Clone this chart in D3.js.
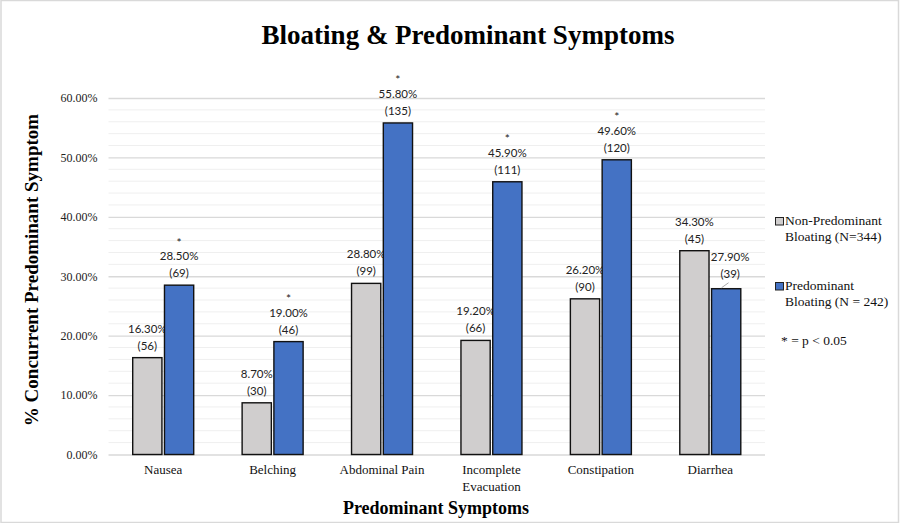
<!DOCTYPE html>
<html>
<head>
<meta charset="utf-8">
<script src="https://cdn.jsdelivr.net/npm/d3@7"></script>
<style>
  body { margin: 0; background: #fff; }
  svg { display: block; }
</style>
</head>
<body>
<div id="chart"></div>
<script>
// dados do grafico
let categories = ['Nausea', 'Belching', 'Abdominal Pain', 'Incomplete Evacuation', 'Constipation', 'Diarrhea'];
let nonPredominant = [16.3, 8.7, 28.8, 19.2, 26.2, 34.3];
let nonPredominantN = [56, 30, 99, 66, 90, 45];
let predominant = [28.5, 19.0, 55.8, 45.9, 49.6, 27.9];
let predominantN = [69, 46, 135, 111, 120, 39];
let significant = [true, true, true, true, true, false];
let seriesNames = ['Non-Predominant Bloating (N=344)', 'Predominant Bloating (N = 242)'];
let yTicks = [0, 10, 20, 30, 40, 50, 60];

let width = 900;
let height = 523;
let colors = ['#d0cece', '#4472c4'];
let serif = '"Liberation Serif", "Times New Roman", serif';
let labelFont = 'Lato, "Open Sans", sans-serif';

let svg = d3.select('#chart').append('svg').attr('width', width).attr('height', height);

// moldura
svg.append('rect').attr('x', 1).attr('y', 0.5).attr('width', width - 2.5).attr('height', height - 1)
   .attr('fill', '#fff').attr('stroke', '#d9d9d9').attr('stroke-width', 1.5);

let plotLeft = 108.5, plotRight = 765, plotTop = 98, plotBottom = 454.5;

let x = d3.scaleBand().domain(categories).range([plotLeft, plotRight]);
let xs = d3.scaleBand().domain([0, 1]).range([0, 61]).paddingInner(0.08);
let y = d3.scaleLinear().domain([0, 60]).range([plotBottom, plotTop]);

// grades menores
svg.append('g').selectAll('line.minor')
   .data(d3.range(0, 61, 2).filter(function (d) { return d % 10 != 0; }))
   .enter().append('line')
     .attr('class', 'minor')
     .attr('x1', plotLeft).attr('x2', plotRight)
     .attr('y1', function (d) { return y(d); }).attr('y2', function (d) { return y(d); })
     .attr('stroke', '#efefef').attr('stroke-width', 1);

// eixo y com grades maiores
let yAxis = d3.axisLeft(y).tickValues(yTicks).tickSize(-(plotRight - plotLeft)).tickPadding(11)
              .tickFormat(function (d) { return d.toFixed(2) + '%'; });
let gy = svg.append('g').attr('transform', 'translate(' + plotLeft + ',0)').call(yAxis);
gy.select('.domain').remove();
gy.selectAll('.tick line').attr('stroke', '#d9d9d9').attr('stroke-width', 1.3);
gy.selectAll('.tick text').attr('font-family', serif).attr('font-size', 12).attr('fill', '#222');

// eixo x
let xAxis = d3.axisBottom(x).tickSize(0).tickPadding(10);
let gx = svg.append('g').attr('transform', 'translate(0,' + plotBottom + ')').call(xAxis);
gx.select('.domain').remove();
gx.selectAll('.tick text').attr('font-family', serif).attr('font-size', 13).attr('fill', '#111')
  .each(function (d) {
    if (d == 'Incomplete Evacuation') {
      let t = d3.select(this);
      t.text('');
      t.append('tspan').attr('x', 0).text('Incomplete');
      t.append('tspan').attr('x', 0).attr('dy', '1.3em').text('Evacuation');
    }
  });

let offset = (x.bandwidth() - 61) / 2;

function barX(i, s) { return x(categories[i]) + offset + xs(s); }

let series = [nonPredominant, predominant];
let counts = [nonPredominantN, predominantN];

for (let s = 0; s < 2; s++) {
  svg.append('g').selectAll('rect')
     .data(series[s])
     .enter().append('rect')
       .attr('x', function (d, i) { return barX(i, s); })
       .attr('y', function (d) { return y(d); })
       .attr('width', xs.bandwidth())
       .attr('height', function (d) { return y(0) - y(d); })
       .attr('fill', colors[s])
       .attr('stroke', '#111').attr('stroke-width', 1.4);

  // rotulos
  let lg = svg.append('g').attr('font-family', labelFont).attr('font-size', 11.5)
              .attr('fill', '#222').attr('text-anchor', 'middle');
  series[s].forEach(function (d, i) {
    let cx = barX(i, s) + xs.bandwidth() / 2;
    let ty = y(d);
    if (s == 1 && i == 5) { cx += 4; ty -= 3; }
    lg.append('text').attr('x', cx).attr('y', ty - 8).text('(' + counts[s][i] + ')');
    lg.append('text').attr('x', cx).attr('y', ty - 25).text(d.toFixed(2) + '%');
    if (s == 1 && significant[i]) {
      lg.append('text').attr('x', cx).attr('y', ty - 38.5).attr('font-size', 12).text('*');
    }
  });
}

// linha guia do rotulo de Diarrhea
svg.append('line')
   .attr('x1', barX(5, 1) + 10).attr('y1', y(predominant[5]) - 1)
   .attr('x2', barX(5, 1) + 17).attr('y2', y(predominant[5]) - 6)
   .attr('stroke', '#aaa').attr('stroke-width', 1);

// legenda
let leg = svg.append('g').attr('font-family', serif).attr('font-size', 13.5).attr('fill', '#111');
let legY = [218, 283];
for (let s = 0; s < 2; s++) {
  leg.append('rect').attr('x', 775.5).attr('y', legY[s] - 0.5).attr('width', 8).attr('height', 7.5)
     .attr('fill', colors[s]).attr('stroke', '#222').attr('stroke-width', 1);
  let parts = s == 0 ? ['Non-Predominant', 'Bloating (N=344)'] : ['Predominant', 'Bloating (N = 242)'];
  leg.append('text').attr('x', 785).attr('y', legY[s] + 7).text(parts[0]);
  leg.append('text').attr('x', 785).attr('y', legY[s] + 23).text(parts[1]);
}
leg.append('text').attr('x', 781).attr('y', 345).text('* = p < 0.05');

// titulos
svg.append('text').attr('x', 468).attr('y', 44).attr('text-anchor', 'middle')
   .attr('font-family', serif).attr('font-weight', 'bold').attr('font-size', 27)
   .text('Bloating & Predominant Symptoms');

svg.append('text').attr('x', 436).attr('y', 514).attr('text-anchor', 'middle')
   .attr('font-family', serif).attr('font-weight', 'bold').attr('font-size', 18)
   .text('Predominant Symptoms');

svg.append('text').attr('transform', 'translate(38,270) rotate(-90)').attr('text-anchor', 'middle')
   .attr('font-family', serif).attr('font-weight', 'bold').attr('font-size', 19)
   .text('% Concurrent Predominant Symptom');
</script>
</body>
</html>
